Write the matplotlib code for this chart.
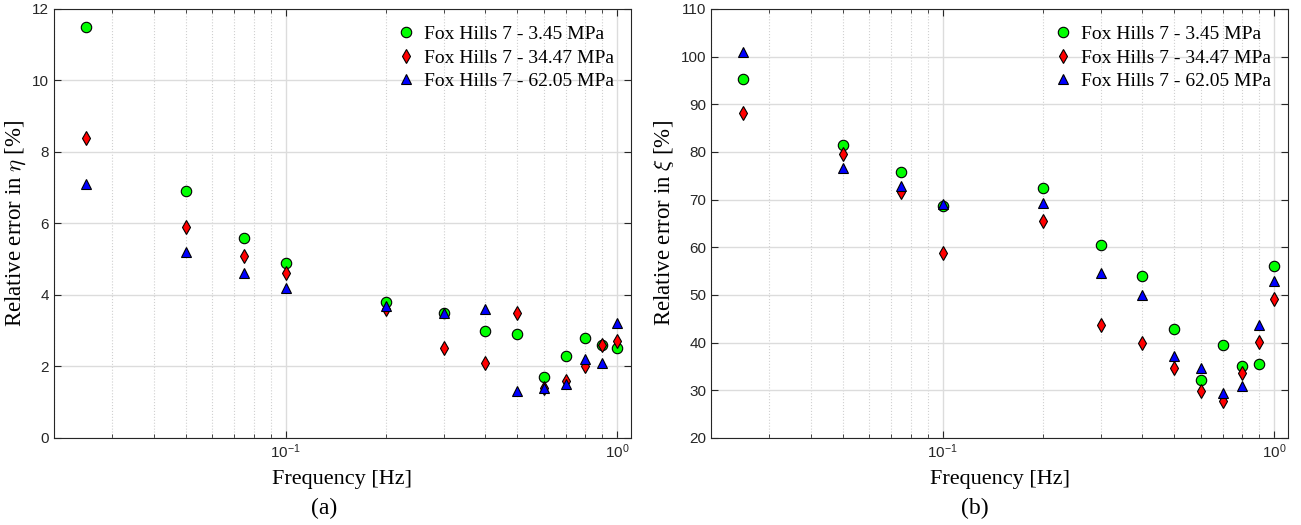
import matplotlib
matplotlib.use("Agg")
import matplotlib.pyplot as plt
from matplotlib.ticker import LogLocator, NullFormatter, MultipleLocator

plt.rcParams['mathtext.fontset'] = 'cm'

freq = [0.025, 0.05, 0.075, 0.1, 0.2, 0.3, 0.4, 0.5, 0.6, 0.7, 0.8, 0.9, 1.0]
labels = ['Fox Hills 7 - 3.45 MPa', 'Fox Hills 7 - 34.47 MPa', 'Fox Hills 7 - 62.05 MPa']

eta_345 = [11.5, 6.9, 5.6, 4.9, 3.8, 3.5, 3.0, 2.9, 1.7, 2.3, 2.8, 2.6, 2.5]
eta_3447 = [8.4, 5.9, 5.1, 4.6, 3.6, 2.5, 2.1, 3.5, 1.4, 1.6, 2.0, 2.6, 2.7]
eta_6205 = [7.1, 5.2, 4.6, 4.2, 3.7, 3.5, 3.6, 1.3, 1.4, 1.5, 2.2, 2.1, 3.2]

xi_345 = [95.3, 81.5, 75.8, 68.7, 72.4, 60.4, 54.0, 42.9, 32.1, 39.4, 35.1, 35.5, 56.0]
xi_3447 = [88.1, 79.5, 71.5, 58.8, 65.4, 43.6, 40.0, 34.6, 29.8, 27.7, 33.7, 40.1, 49.1]
xi_6205 = [100.9, 76.6, 72.9, 69.1, 69.3, 54.6, 49.9, 37.1, 34.6, 29.4, 30.8, 43.6, 53.0]

serif = 'Liberation Serif'
sans = 'Liberation Sans'

fig = plt.figure(figsize=(13.01, 5.25), dpi=100)
ax1 = fig.add_axes([54 / 1301, 0.166, 577 / 1301, 0.817])
ax2 = fig.add_axes([711 / 1301, 0.166, 577 / 1301, 0.817])

styles = [dict(marker='o', color='#00ff00'), dict(marker='d', color='#ff0000'), dict(marker='^', color='#0000ff')]

def setup(ax, series, ylim, ystep, ylabel, caption, capx):
    for s, lab, st in zip(series, labels, styles):
        ax.plot(freq, s, linestyle='none', marker=st['marker'], markerfacecolor=st['color'],
                markeredgecolor='black', markeredgewidth=0.8, markersize=7.5, label=lab, zorder=3)
    ax.set_xscale('log')
    ax.set_xlim(0.02, 1.1)
    ax.set_ylim(*ylim)
    ax.yaxis.set_major_locator(MultipleLocator(ystep))
    ax.xaxis.set_major_locator(LogLocator(base=10, numticks=10))
    ax.xaxis.set_minor_locator(LogLocator(base=10, subs=range(2, 10), numticks=20))
    ax.xaxis.set_minor_formatter(NullFormatter())
    ax.grid(True, which='major', color='#dcdcdc', linewidth=1.0, zorder=0)
    ax.grid(True, which='minor', axis='x', color='#d0d0d0', linestyle=':', linewidth=0.8, zorder=0)
    ax.set_axisbelow(True)
    ax.tick_params(which='both', direction='in', top=True, right=True, labelsize=11, colors='#262626')
    ax.tick_params(which='minor', length=3)
    ax.tick_params(which='major', length=5)
    for lab in ax.get_xticklabels() + ax.get_yticklabels():
        lab.set_fontfamily(sans)
    for sp in ax.spines.values():
        sp.set_color('#262626')
        sp.set_linewidth(0.8)
    ax.set_xlabel('Frequency [Hz]', fontfamily=serif, fontsize=16, labelpad=6)
    ax.set_ylabel(ylabel, fontfamily=serif, fontsize=16.5, labelpad=3)
    ax.legend(loc='upper right', frameon=False, prop={'family': serif, 'size': 14},
              handletextpad=0.25, borderaxespad=0.45, labelspacing=0.3, handlelength=1.4)
    fig.text(capx, 1 - 508 / 525, caption, ha='center', va='center', fontfamily=serif, fontsize=17)

setup(ax1, [eta_345, eta_3447, eta_6205], (0, 12), 2, r'Relative error in $\eta$ [%]', '(a)', 324 / 1301)
setup(ax2, [xi_345, xi_3447, xi_6205], (20, 110), 10, r'Relative error in $\xi$ [%]', '(b)', 975 / 1301)

fig.savefig('out.png', dpi=100)
